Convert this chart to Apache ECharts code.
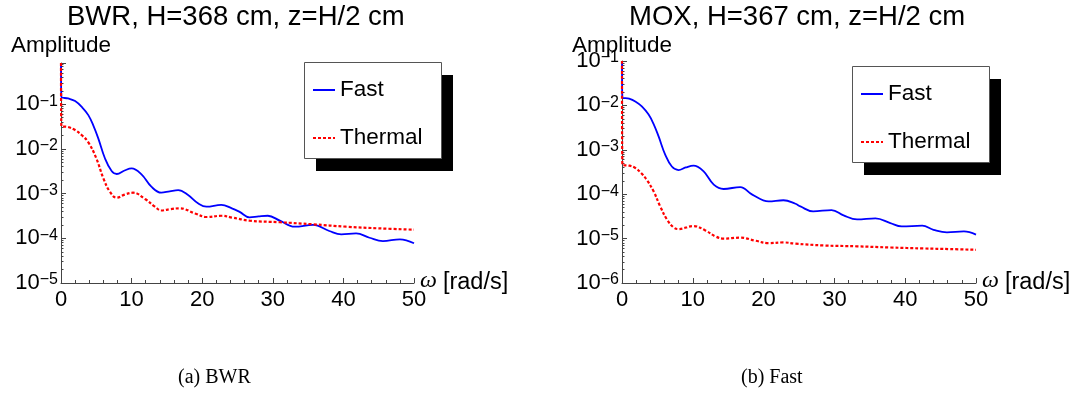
<!DOCTYPE html>
<html>
<head>
<meta charset="utf-8">
<script src="https://cdn.jsdelivr.net/npm/echarts@6/dist/echarts.min.js"></script>
<style>html,body{margin:0;padding:0;background:#fff}#c{width:1081px;height:397px}</style>
</head>
<body>
<div id="c"></div>
<script>
// ---- data ----
const titles = ['BWR, H=368 cm, z=H/2 cm', 'MOX, H=367 cm, z=H/2 cm'];
const captions = ['(a) BWR', '(b) Fast'];
const seriesNames = ['Fast', 'Thermal'];
const yAxisName = 'Amplitude';

const bwrFastX = [0, 0.05, 1, 2, 3, 3.87, 4.6, 5.28, 6.22, 7.17, 7.9, 9, 10, 11.4, 12.8, 14.2, 15.4, 16.6, 18, 19.4, 20.6, 22.7, 24.2, 25.3, 26.7, 28, 29.3, 31, 33.1, 35.7, 38, 39.7, 41.8, 43.7, 45.6, 48, 50];
const bwrFastY = [0.84, 0.147, 0.135, 0.118, 0.085, 0.0573, 0.033, 0.0173, 0.0062, 0.0032, 0.00275, 0.0033, 0.00368, 0.0027, 0.00143, 0.00105, 0.00113, 0.0012, 0.00093, 0.00061, 0.00051, 0.00056, 0.00047, 0.00039, 0.000295, 0.00031, 0.00032, 0.000248, 0.000182, 0.0002, 0.000146, 0.000123, 0.000129, 0.000103, 0.000087, 0.000095, 0.0000775];

const bwrThermX = [0, 0.05, 1, 2, 3, 3.87, 5.0, 6.0, 6.93, 7.87, 9, 10.2, 11.9, 13.3, 14.2, 15.5, 16.8, 19, 20.6, 22.7, 24.3, 26.7, 31, 35.7, 40.4, 45.1, 50];
const bwrThermY = [0.84, 0.0325, 0.031, 0.0265, 0.02, 0.0141, 0.0062, 0.0022, 0.0011, 0.00081, 0.00095, 0.00105, 0.00076, 0.00051, 0.00042, 0.00045, 0.00047, 0.00036, 0.0003, 0.00032, 0.00029, 0.000248, 0.000229, 0.000206, 0.000182, 0.000167, 0.000156];

const moxFastX = [0, 0.05, 1, 1.88, 2.8, 3.76, 4.5, 5.17, 6.1, 7.04, 7.98, 9, 10.1, 11.5, 12.96, 14.35, 16.7, 18.4, 20.7, 22.8, 24.5, 25.2, 27.0, 29.6, 31.3, 33.2, 35.8, 37.9, 39.5, 42.4, 44.0, 45.9, 48.3, 50];
const moxFastY = [0.1, 0.0151, 0.0142, 0.0123, 0.0095, 0.0062, 0.0037, 0.002, 0.00078, 0.00042, 0.00035, 0.0004, 0.00044, 0.00033, 0.000164, 0.000131, 0.000145, 0.000098, 0.000069, 0.000073, 0.000061, 0.000053, 0.000041, 0.000044, 0.0000333, 0.000027, 0.0000285, 0.0000224, 0.0000188, 0.0000195, 0.0000158, 0.0000138, 0.0000145, 0.0000123];

const moxThermX = [0, 0.05, 1, 1.88, 2.7, 3.5, 4.46, 5.4, 6.36, 7.3, 7.98, 10.1, 11.77, 13.2, 14.35, 16.7, 18.8, 20.7, 22.8, 24.5, 28.5, 33.2, 37.9, 42.6, 46.4, 50];
const moxThermY = [0.1, 0.00046, 0.00044, 0.00039, 0.0003, 0.00021, 0.000116, 0.000053, 0.0000267, 0.0000178, 0.0000164, 0.0000192, 0.0000153, 0.0000112, 0.00001, 0.0000105, 0.000009, 0.0000079, 0.0000082, 0.0000077, 0.000007, 0.0000067, 0.0000063, 0.000006, 0.0000058, 0.0000056];

const xTickStep = 10;
const yRanges = [[1e-5, 0.84], [1e-6, 0.1]];

// ---- chart ----
const zip = (xs, ys) => xs.map((x, i) => [x, ys[i]]);
const FONT = 'Liberation Sans';
const axisColor = '#444';

function yFmt(v) {
  const e = Math.round(Math.log10(v));
  return '{b|10}{s|' + (e < 0 ? '\u2212' + (-e) : e) + '}';
}

const grids = [
  { left: 61, top: 63, width: 353, height: 220 },
  { left: 622, top: 61, width: 354, height: 222 }
];

function xAxis(i) {
  return {
    type: 'value', gridIndex: i, min: 0, max: 50, interval: xTickStep,
    name: '{w|ω}{t|[rad/s]}', nameLocation: 'end', nameGap: 6, nameMoveOverlap: false,
    nameTextStyle: {
      rich: {
        w: { fontFamily: 'Liberation Serif', fontStyle: 'italic', fontSize: 24, color: '#000', lineHeight: 26, padding: [0, 6, 5, 0] },
        t: { fontFamily: FONT, fontSize: 23.5, color: '#000', lineHeight: 26 }
      }
    },
    axisLine: { show: true, onZero: false, lineStyle: { color: axisColor, width: 1 } },
    axisTick: { show: true, inside: true, length: 5, lineStyle: { color: axisColor } },
    minorTick: { show: true, splitNumber: 5, length: 3, lineStyle: { color: axisColor } },
    axisLabel: { fontFamily: FONT, fontSize: 22, color: '#000', margin: 6 },
    splitLine: { show: false }, minorSplitLine: { show: false }
  };
}

function yAxis(i) {
  return {
    type: 'log', gridIndex: i, logBase: 10, min: yRanges[i][0], max: yRanges[i][1],
    name: yAxisName, nameLocation: 'end', nameGap: i === 0 ? 6 : 4, nameMoveOverlap: false,
    nameTextStyle: { fontFamily: FONT, fontSize: 22.5, color: '#000', align: 'center' },
    axisLine: { show: true, onZero: false, lineStyle: { color: axisColor, width: 1 } },
    axisTick: { show: true, inside: true, length: 5, lineStyle: { color: axisColor } },
    minorTick: { show: true, splitNumber: 9, length: 2.5, lineStyle: { color: axisColor } },
    axisLabel: {
      margin: 3, formatter: yFmt, showMaxLabel: i === 1,
      rich: {
        b: { fontFamily: FONT, fontSize: 22, color: '#000', lineHeight: 22 },
        s: { fontFamily: FONT, fontSize: 16, color: '#000', verticalAlign: 'top', lineHeight: 14 }
      }
    },
    splitLine: { show: false }, minorSplitLine: { show: false }
  };
}

function line(name, color, type, width, xi, data) {
  return {
    name, type: 'line', xAxisIndex: xi, yAxisIndex: xi, data,
    symbol: 'none', smooth: 0.4, clip: true,
    lineStyle: { color, type, width }, itemStyle: { color },
    emphasis: { disabled: true }, z: 3
  };
}

const legendBase = {
  orient: 'vertical', itemWidth: 22, itemHeight: 14, itemGap: 24,
  padding: [15, 19, 9, 8],
  backgroundColor: 'transparent', borderWidth: 0, z: 10,
  itemStyle: { color: 'rgba(0,0,0,0)', borderWidth: 0, opacity: 0 },
  textStyle: { fontFamily: FONT, fontSize: 22.5, color: '#000', lineHeight: 24 },
  data: seriesNames, selectedMode: false
};

function legendBox(x, y) {
  return [
    { type: 'rect', z: 8, silent: true, shape: { x: x + 12, y: y + 13, width: 137, height: 96 }, style: { fill: '#000' } },
    { type: 'rect', z: 9, silent: true, shape: { x: x + 0.5, y: y + 0.5, width: 137, height: 96 }, style: { fill: '#fff', stroke: '#555', lineWidth: 1 } }
  ];
}

const option = {
  animation: false,
  backgroundColor: '#fff',
  title: [
    { text: titles[0], left: 67, top: 3, padding: 0, textStyle: { fontFamily: FONT, fontSize: 27.5, fontWeight: 'normal', color: '#000' } },
    { text: titles[1], left: 629, top: 3, padding: 0, textStyle: { fontFamily: FONT, fontSize: 27.5, fontWeight: 'normal', color: '#000' } },
    { text: captions[0], left: 178, top: 368, padding: 0, textStyle: { fontFamily: 'Liberation Serif', fontSize: 20, fontWeight: 'normal', color: '#000' } },
    { text: captions[1], left: 741, top: 368, padding: 0, textStyle: { fontFamily: 'Liberation Serif', fontSize: 20, fontWeight: 'normal', color: '#000' } }
  ],
  graphic: legendBox(304, 62).concat(legendBox(852, 66)),
  legend: [
    Object.assign({}, legendBase, { left: 304, top: 63 }),
    Object.assign({}, legendBase, { left: 852, top: 67 })
  ],
  grid: grids,
  xAxis: [xAxis(0), xAxis(1)],
  yAxis: [yAxis(0), yAxis(1)],
  series: [
    line(seriesNames[0], '#0000ff', 'solid', 1.8, 0, zip(bwrFastX, bwrFastY)),
    line(seriesNames[1], '#ff0000', [3, 2], 2.2, 0, zip(bwrThermX, bwrThermY)),
    line(seriesNames[0], '#0000ff', 'solid', 1.8, 1, zip(moxFastX, moxFastY)),
    line(seriesNames[1], '#ff0000', [3, 2], 2.2, 1, zip(moxThermX, moxThermY))
  ]
};

const chart = echarts.init(document.getElementById('c'), null, { renderer: 'canvas' });
chart.setOption(option);
</script>
</body>
</html>
